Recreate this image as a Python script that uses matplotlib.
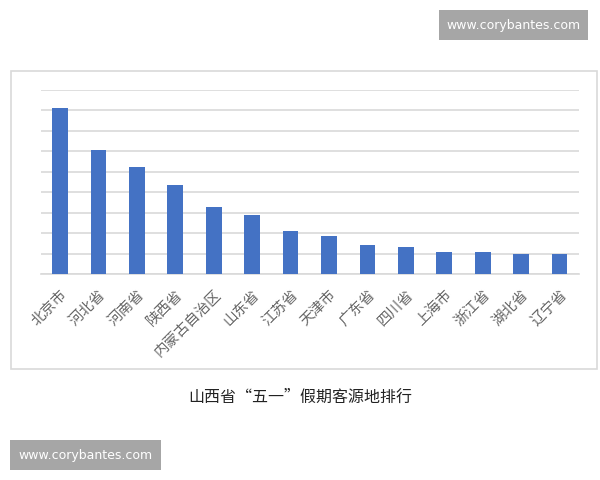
import matplotlib
matplotlib.use("Agg")
import matplotlib.pyplot as plt
from matplotlib.patches import Rectangle

plt.rcParams['font.family'] = ['Noto Sans CJK SC', 'DejaVu Sans']

provinces = ["北京市", "河北省", "河南省", "陕西省", "内蒙古自治区", "山东省", "江苏省",
             "天津市", "广东省", "四川省", "上海市", "浙江省", "湖北省", "辽宁省"]
values = [8.11, 6.08, 5.22, 4.36, 3.30, 2.89, 2.12, 1.88, 1.44, 1.31, 1.08, 1.06, 0.98, 0.96]
title = "山西省“五一”假期客源地排行"
watermark = "www.corybantes.com"

W, H = 600, 480


def px(x0, y0, x1, y1):
    # pixel box (top-left origin) -> figure fraction rect
    return (x0 / W, 1 - y1 / H, (x1 - x0) / W, (y1 - y0) / H)


fig = plt.figure(figsize=(6, 4.8), dpi=100)
fig.patch.set_facecolor("white")

# chart border
l, b, w, h = px(11, 71, 597, 369)
fig.patches.append(Rectangle((l, b), w, h, transform=fig.transFigure,
                             fill=False, edgecolor="#d9d9d9", linewidth=1.2))

ax = fig.add_axes(px(40.8, 90, 578.8, 274))
x = range(len(provinces))
ax.bar(x, values, width=0.41, color="#4472c4", zorder=3)
ax.set_xlim(-0.5, len(provinces) - 0.5)
ax.set_ylim(0, 9)
ax.set_yticks(range(0, 10))
ax.yaxis.grid(True, color="#d9d9d9", linewidth=1.2, zorder=0)
ax.tick_params(axis="y", left=False, labelleft=False)
ax.tick_params(axis="x", bottom=False, pad=6)
ax.set_xticks(list(x))
ax.set_xticklabels(provinces, rotation=45, ha="right", rotation_mode="anchor",
                   fontsize=10.5, color="#666666")
for s in ["top", "right", "left"]:
    ax.spines[s].set_visible(False)
ax.spines["bottom"].set_color("#d9d9d9")
ax.spines["bottom"].set_linewidth(1.2)

fig.text(0.5, 1 - 397 / H, title, ha="center", va="center", fontsize=11.5,
         color="#222222")

# watermarks
for (x0, y0, x1, y1) in [(439, 10, 588, 40), (10, 440, 161, 470)]:
    l, b, w, h = px(x0, y0, x1, y1)
    fig.patches.append(Rectangle((l, b), w, h, transform=fig.transFigure,
                                 facecolor="#a6a6a6", edgecolor="none"))
    fig.text(l + w / 2, b + h / 2, watermark, ha="center", va="center",
             fontsize=9, color="white", family="DejaVu Sans")

fig.savefig("out.png", dpi=100)
